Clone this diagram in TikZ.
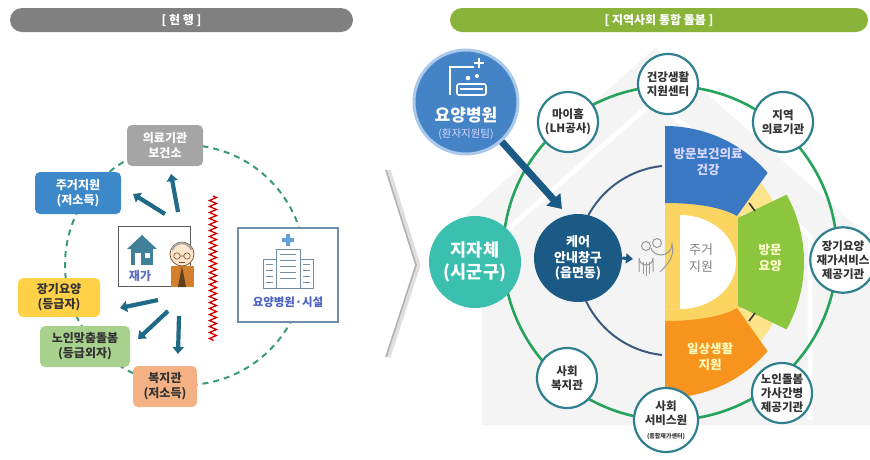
\documentclass[tikz,border=0pt]{standalone}
\usepackage{fontspec}
\setmainfont{Noto Sans CJK KR}
\usetikzlibrary{arrows.meta,decorations.pathmorphing,calc}

\definecolor{hdrgray}{HTML}{808080}
\definecolor{hdrgreen}{HTML}{8AB33A}
\definecolor{dashgreen}{HTML}{3A9A78}
\definecolor{arrowteal}{HTML}{1E6A87}
\definecolor{boxgray}{HTML}{A5A5A5}
\definecolor{boxblue}{HTML}{3D88C9}
\definecolor{boxyellow}{HTML}{FFD147}
\definecolor{boxgreen}{HTML}{A9D18E}
\definecolor{boxorange}{HTML}{F4B183}
\definecolor{ringgreen}{HTML}{25A35A}
\definecolor{circborder}{HTML}{2F7F8F}
\definecolor{hospblue}{HTML}{4383C6}
\definecolor{hosprim}{HTML}{A9C8EA}
\definecolor{jijateal}{HTML}{3BBFAE}
\definecolor{carenavy}{HTML}{1C5A86}
\definecolor{sblue}{HTML}{3B78C4}
\definecolor{sgreen}{HTML}{8CC63F}
\definecolor{sorange}{HTML}{F7941D}
\definecolor{syellow}{HTML}{FCD462}
\definecolor{swedge}{HTML}{FDE48B}
\definecolor{arcnavy}{HTML}{3B5B7E}
\definecolor{bgroof}{HTML}{F4F4F4}
\definecolor{textdark}{HTML}{333333}
\definecolor{jaega}{HTML}{5B6FC2}
\definecolor{hospicon}{HTML}{6F8FA6}

\begin{document}
\begin{tikzpicture}[x=1pt,y=-1pt,
  every node/.style={font=\fontsize{11}{13}\selectfont, inner sep=0pt, align=center},
  header/.style={rounded corners=12pt, minimum height=24pt, text=white, font=\bfseries\fontsize{12}{14}\selectfont},
  lbox/.style={rounded corners=5pt, text=textdark, font=\bfseries\fontsize{12}{15}\selectfont},
  lbarrow/.style={draw=arrowteal, line width=4.2pt, -{Triangle[length=7pt,width=11pt]}},
  ringnode/.style={circle, draw=circborder, line width=2.2pt, fill=white, minimum size=60pt, text=textdark, font=\bfseries\fontsize{11.5}{14}\selectfont},
  sectortext/.style={font=\bfseries\fontsize{12.5}{16}\selectfont}
]
\useasboundingbox (0,0) rectangle (870,459);

% ---------- headers ----------
\node[header, fill=hdrgray, minimum width=343pt] (hdrL) at (181.5,20) {[ 현 행 ]};
\node[header, fill=hdrgreen, minimum width=418pt] (hdrR) at (659,20) {[ 지역사회 통합 돌봄 ]};

% ---------- current system ----------
\draw[dashgreen, line width=2pt, dash pattern=on 6pt off 5pt] (185,265) circle[radius=120];

\node[lbox, fill=boxgray, text=white, minimum width=76pt, minimum height=41pt] (medical) at (165,145.5) {의료기관\\보건소};
\node[lbox, fill=boxblue, text=white, minimum width=86pt, minimum height=42pt] (housing) at (78,193) {주거지원\\(저소득)};
\node[lbox, fill=boxyellow, minimum width=82pt, minimum height=39pt] (ltc) at (59,297.5) {장기요양\\(등급자)};
\node[lbox, fill=boxgreen, minimum width=90pt, minimum height=41pt] (custom) at (85,346.5) {노인맞춤돌봄\\(등급외자)};
\node[lbox, fill=boxorange, minimum width=64pt, minimum height=41pt] (welfare) at (165,386.5) {복지관\\(저소득)};

% home box
\node[draw=textdark!80, line width=1pt, fill=white, minimum width=72pt, minimum height=60pt] (home) at (154,256) {};
\node[text=jaega, font=\bfseries\fontsize{12}{14}\selectfont] (homelbl) at (140,276) {재가};
% house icon
\fill[arrowteal!85] (127,249) -- (142,235) -- (157,249) -- cycle;
\fill[arrowteal!85] (131,248) rectangle (153,265);
\fill[white] (135,253) rectangle (141,265);
\fill[white] (145,253) rectangle (150,258);
% elderly person icon
\fill[brown!70!orange] (171,266) rectangle (194,287);
\fill[brown!50!black] (182,266) -- (178,287) -- (186,287) -- cycle;
\filldraw[fill=orange!20!white, draw=brown!60!black, line width=0.7pt] (182,254) circle[radius=12];
\draw[gray!70, line width=2pt] (172,250) arc[start angle=200, end angle=340, radius=10.5];
\draw[brown!60!black, line width=0.6pt] (177,256) circle[radius=3.2] (187,256) circle[radius=3.2] (180.2,256) -- (183.8,256);
\draw[brown!60!black, line width=0.6pt] (179,262) -- (185,262);

% arrows from home
\coordinate (toMed) at (171,174);
\coordinate (toHouse) at (133,194);
\coordinate (toLtc) at (120,308);
\coordinate (toCustom) at (138,339);
\coordinate (toWelfare) at (178,354);
\draw[lbarrow] (178,212) -- (toMed);
\draw[lbarrow] (165,214) -- (toHouse);
\draw[lbarrow] (158,300) -- (toLtc);
\draw[lbarrow] (168,311) -- (toCustom);
\draw[lbarrow] (179,316) -- (toWelfare);

% barrier
\draw[red!80!black, line width=1.3pt, decorate, decoration={zigzag, segment length=6pt, amplitude=3.5pt}] (213,196) -- (213,341);

% hospital / facility box
\node[draw=hospicon, line width=1.2pt, fill=white, minimum width=100pt, minimum height=94pt] (hosp) at (288,275) {};
\node[text=hospicon!70!blue, font=\bfseries\fontsize{11.5}{13}\selectfont] (hosplbl) at (288,302) {요양병원·시설};
\fill[boxblue!80] (286,234) rectangle (290,246) (282,238) rectangle (294,242);
\draw[hospicon, line width=1pt] (276,249) rectangle (300,288) (263,259) rectangle (276,288) (300,259) rectangle (313,288);
\foreach \yy in {254,260,266,272,278} {\draw[hospicon, line width=0.8pt] (280,\yy) -- (296,\yy);}
\foreach \yy in {264,270,276,282} {\draw[hospicon, line width=0.8pt] (266,\yy) -- (273,\yy) (303,\yy) -- (310,\yy);}

% chevron
\draw[gray!25, line width=5pt, line join=miter] (388,170) -- (418,265) -- (388,357);
\draw[gray!60, line width=1.6pt, line join=miter] (386,170) -- (416,265) -- (386,357);

% ---------- community care ----------
% faint house backdrop
\fill[bgroof] (440,238) -- (655,48) -- (870,238) -- (870,425) -- (482,425) -- (482,238) -- cycle;
\draw[white, line width=5pt, line join=miter] (500,236) -- (655,100) -- (810,236) -- (810,420);

% outer ring
\draw[ringgreen, line width=2.6pt] (670,253) circle[radius=167];

% inner navy arc and sectors, drawn about the centre of the half disc
\begin{scope}[shift={(665,262)}, x=1pt, y=1pt]
  \draw[arcnavy, line width=2pt] (-3,96) arc[start angle=96, end angle=264, radius=95];
  \fill[syellow] (0,-62) rectangle (76,62);
  \fill[white] (15,47) arc[start angle=90, end angle=-90, x radius=56, y radius=47] -- (0,-47) -- (0,47) -- cycle;
  \fill[syellow] (0,-47) rectangle (15,47);
  \fill[swedge] (72,46) -- (45:124) arc[start angle=45, end angle=27, radius=124] -- cycle;
  \fill[swedge] (72,-46) -- (-45:124) arc[start angle=-45, end angle=-27, radius=124] -- cycle;
  \fill[sblue] (0,59) .. controls (40,59) and (62,52) .. (72,46) -- (41:136) arc[start angle=41, end angle=90, radius=136] -- cycle;
  \fill[sorange] (0,-59) .. controls (40,-59) and (62,-52) .. (72,-46) -- (-41:136) arc[start angle=-41, end angle=-90, radius=136] -- cycle;
  \fill[sgreen] (73,44) -- (29:139) arc[start angle=29, end angle=-29, radius=139] -- (73,-44) -- cycle;
  \draw[textdark, line width=1.6pt] (84,59) -- (90,51);
  \draw[textdark, line width=1.6pt] (84,-59) -- (90,-51);
\end{scope}

\node[sectortext, text=white!85!blue] (visitmed) at (708,162) {방문보건의료\\건강};
\node[sectortext, text=white!80!yellow] (visitcare) at (770,258) {방문\\요양};
\node[sectortext, text=gray, font=\fontsize{13}{16.5}\selectfont] (house) at (701,258) {주거\\지원};
\node[sectortext, text=white!75!yellow] (daily) at (710,357) {일상생활\\지원};

% ring partners
\node[ringnode] (health) at (668,84) {건강생활\\지원센터};
\node[ringnode] (localmed) at (783,122) {지역\\의료기관};
\node[ringnode, minimum size=57pt] (ltcprov) at (843,260) {장기요양\\재가서비스\\제공기관};
\node[ringnode] (eldcare) at (782,393) {노인돌봄\\가사간병\\제공기관};
\node[ringnode, minimum size=64pt] (socsvc) at (666,420) {사회\\서비스원\\{\fontsize{6}{7}\selectfont(종합재가센터)}};
\node[ringnode] (socwel) at (567,378) {사회\\복지관};
\node[ringnode] (myhome) at (568,122) {마이홈\\(LH공사)};

% local government
\node[circle, fill=jijateal, minimum size=92pt, text=white, font=\bfseries\fontsize{17.5}{22}\selectfont] (gov) at (475,262) {지자체\\(시군구)};

% care desk with pointer to the person
\node[circle, fill=carenavy, minimum size=88pt, text=white, font=\bfseries\fontsize{13}{15.5}\selectfont] (desk) at (578,258) {케어\\안내창구\\(읍면동)};
\coordinate (person) at (633,259);
\draw[carenavy, line width=3pt, -{Triangle[length=7pt,width=10pt]}] (desk.east) -- (person);

% person-with-pin icon
\begin{scope}[draw=gray!80, line width=1pt]
  \draw (646,246) circle[radius=4.5] (657,243) circle[radius=4.5];
  \draw (639,272) -- (639,258) arc[start angle=180, end angle=0, radius=7] -- (653,272);
  \draw (643,262) -- (643,274) (646,262) -- (646,276) (649,262) -- (649,274);
  \draw (660,272) .. controls (672,260) and (674,254) .. (672,244) arc[start angle=0, end angle=160, radius=11];
\end{scope}

% hospital patient support team
\node[circle, fill=hospblue, draw=hosprim, line width=3pt, minimum size=104pt] (hospteam) at (466,102) {};
\node[text=white, font=\bfseries\fontsize{17}{20}\selectfont] (hospteamlbl) at (466,115) {요양병원};
\node[text=white!85!blue, font=\fontsize{10.5}{12}\selectfont] (hospteamsub) at (466,134) {(환자지원팀)};
\draw[white, line width=2.4pt] (450,95) -- (450,67) -- (474,67);
\draw[white, line width=2pt] (479,58) -- (479,68) (474,63) -- (484,63);
\draw[white, line width=1.6pt, rounded corners=2pt] (457,84) rectangle (486,95);
\fill[white] (468,78) circle[radius=2.3] (477,76) circle[radius=2];
\draw[white, line width=1.2pt] (460,89) -- (483,89);

\coordinate (careArrowEnd) at (562,209);
\draw[carenavy, line width=7pt, -{Triangle[length=13pt,width=18pt]}] (hospteam.-48) -- (careArrowEnd);

\end{tikzpicture}
\end{document}
